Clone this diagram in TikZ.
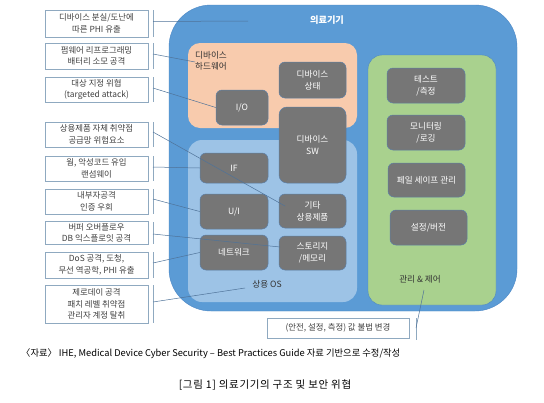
\documentclass[tikz,border=0pt]{standalone}
\usepackage{fontspec}
\setmainfont{Noto Sans CJK KR}
\begin{document}
\begin{tikzpicture}[x=1pt,y=-1pt,
  threat/.style={draw=tbord,line width=0.6pt,fill=white,minimum width=103pt,align=center,font=\fontsize{8.4}{11.5}\selectfont,text=black!75,inner sep=1pt},
  part/.style={draw=pbord,line width=0.5pt,fill=pgray,rounded corners=6pt,text=white,align=center,font=\fontsize{8.6}{12}\selectfont,inner sep=1pt},
  brk/.style={draw=tbord,line width=0.6pt},
  conn/.style={draw=cline,line width=0.5pt},
  lbl/.style={font=\fontsize{8.6}{11.5}\selectfont,text=black!80,align=left,inner sep=0pt}]
\definecolor{obluefill}{HTML}{5B9BD5}
\definecolor{obord}{HTML}{4A86C5}
\definecolor{orangef}{HTML}{F8CBAD}
\definecolor{lbluef}{HTML}{9DC3E6}
\definecolor{greenf}{HTML}{A9D18E}
\definecolor{pgray}{HTML}{767676}
\definecolor{pbord}{HTML}{5C7FA6}
\definecolor{tbord}{HTML}{8FA9C0}
\definecolor{cline}{HTML}{4F7399}
\useasboundingbox (0,0) rectangle (544,402);
\fill[white] (0,0) rectangle (544,402);
% outer device
\path[fill=obluefill,draw=obord,rounded corners=42pt] (169,5) rectangle (517,311);
\node[font=\fontsize{9.2}{11}\selectfont\bfseries,text=white] (title) at (327,20) {의료기기};
% hardware
\path[fill=orangef,rounded corners=12pt] (188,43) rectangle (357,128);
\node[lbl,anchor=north west] (hw) at (195,51) {디바이스\\하드웨어};
% OS
\path[fill=lbluef,rounded corners=14pt] (188,140) rectangle (357,302);
\node[lbl] (os) at (267,284) {상용 OS};
% management
\path[fill=greenf,draw=obord,line width=0.4pt,rounded corners=14pt] (368,55) rectangle (496,305);
\node[lbl] (mgmt) at (420,279) {관리 \& 제어};
% parts
\node[part,minimum width=52pt,minimum height=35pt] (io) at (242,107.5) {I/O};
\node[part,minimum width=67pt,minimum height=36pt] (state) at (312.5,80) {디바이스\\상태};
\node[part,minimum width=67pt,minimum height=76pt,rounded corners=8pt] (sw) at (312.5,145) {디바이스\\SW};
\node[part,minimum width=68pt,minimum height=30pt] (if) at (234,168) {IF};
\node[part,minimum width=68pt,minimum height=35pt] (ui) at (234,211.5) {U/I};
\node[part,minimum width=67pt,minimum height=34pt] (etc) at (312.5,211) {기타\\상용제품};
\node[part,minimum width=68pt,minimum height=35pt] (net) at (234,252.5) {네트워크};
\node[part,minimum width=67pt,minimum height=34pt] (stor) at (312.5,253) {스토리지\\/메모리};
\node[part,minimum width=78pt,minimum height=35pt] (test) at (426,85.5) {테스트\\/측정};
\node[part,minimum width=78pt,minimum height=35pt] (mon) at (426,132.5) {모니터링\\/로깅};
\node[part,minimum width=77pt,minimum height=34pt] (fail) at (426.5,180) {페일 세이프 관리};
\node[part,minimum width=77pt,minimum height=35pt] (conf) at (428.5,227.5) {설정/버전};
% threats
\node[threat,minimum height=27pt] (t1) at (96.5,23.5) {디바이스 분실/도난에\\따른 PHI 유출};
\node[threat,minimum height=26pt] (t2) at (96.5,56) {펌웨어 리프로그래밍\\배터리 소모 공격};
\node[threat,minimum height=25pt] (t3) at (96.5,89.5) {대상 지정 위협\\(targeted attack)};
\node[threat,minimum height=25pt] (t4) at (96.5,134.5) {상용제품 자체 취약점\\공급망 위험요소};
\node[threat,minimum height=25pt] (t5) at (96.5,168.5) {웜, 악성코드 유입\\랜섬웨이};
\node[threat,minimum height=25pt] (t6) at (96.5,201.5) {내부자공격\\인증 우회};
\node[threat,minimum height=23pt] (t7) at (96.5,233) {버퍼 오버플로우\\DB 익스플로잇 공격};
\node[threat,minimum height=26pt] (t8) at (96.5,265) {DoS 공격, 도청,\\무선 역공학, PHI 유출};
\node[threat,minimum height=38pt] (t9) at (96.5,304) {제로데이 공격\\패치 레벨 취약점\\관리자 계정 탈취};
\node[threat,minimum width=142pt,minimum height=20pt] (t10) at (338,328) {(안전, 설정, 측정) 값 불법 변경};
% brackets
\foreach \n/\a/\b in {1/10/37,2/43/69,3/77/102,4/122/147,5/156/181,6/189/214,7/222/244,8/252/278,9/285/323}{
  \coordinate (b\n a) at (153,\a);
  \coordinate (b\n b) at (153,\b);
  \draw[brk] (b\n a) -- (b\n b);
}
\coordinate (b10a) at (416,318); \coordinate (b10b) at (416,340);
\draw[brk] (b10a) -- (b10b);
% connectors
\coordinate (s1) at (153,21.5); \coordinate (e1) at (248,21);
\coordinate (s2) at (153,54); \coordinate (e2) at (195,62);
\coordinate (s3) at (153,88);
\coordinate (s4) at (153,132); \coordinate (e4) at (285,206);
\coordinate (s5) at (153,167);
\coordinate (s6) at (153,199);
\coordinate (s7) at (153,234); \coordinate (e7) at (280,247);
\coordinate (s8) at (153,263);
\coordinate (s9) at (153,302); \coordinate (e9) at (245,288);
\coordinate (s10) at (416,328); \coordinate (e10) at (424,290);
\draw[conn] (s1) -- (e1);
\draw[conn] (s2) -- (e2);
\draw[conn] (s3) -- (io.west);
\draw[conn] (s4) -- (e4);
\draw[conn] (s5) -- (if.west);
\draw[conn] (s6) -- (ui.west);
\draw[conn] (s7) -- (e7);
\draw[conn] (s8) -- (net.west);
\draw[conn] (s9) -- (e9);
\draw[conn] (s10) -- (e10);
% captions
\node[font=\fontsize{9.3}{11}\selectfont,anchor=west,inner sep=0pt] (src) at (21,354) {〈자료〉 IHE, Medical Device Cyber Security – Best Practices Guide 자료 기반으로 수정/작성};
\node[font=\fontsize{10.5}{12}\selectfont\addfontfeatures{LetterSpace=6},inner sep=0pt] (cap) at (265,385) {[그림 1] 의료기기의 구조 및 보안 위협};
\end{tikzpicture}
\end{document}
